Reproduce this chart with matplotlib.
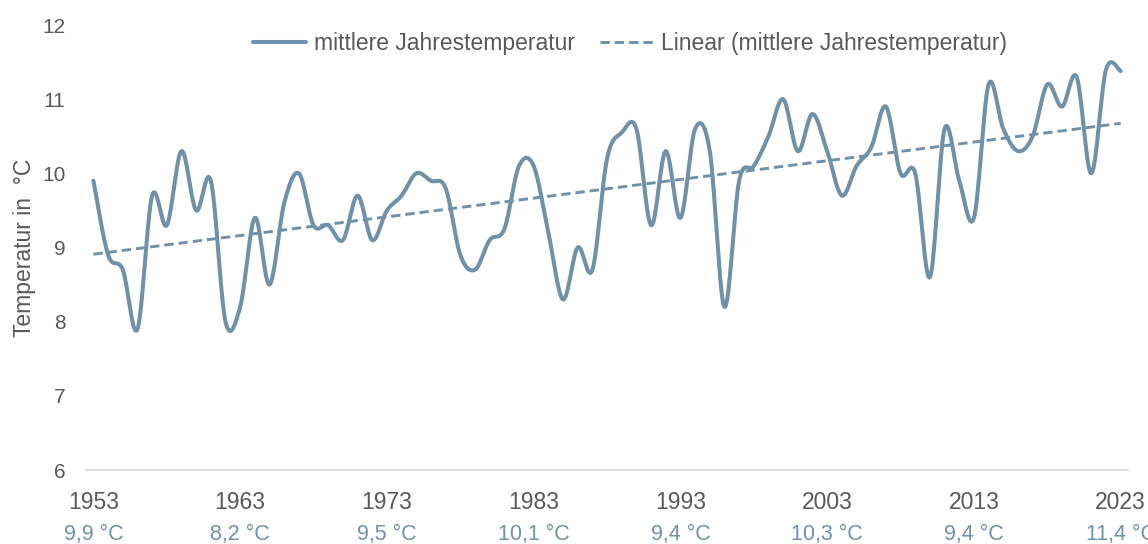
import numpy as np
import matplotlib
matplotlib.use("Agg")
import matplotlib.pyplot as plt
from matplotlib.transforms import blended_transform_factory

plt.rcParams['font.family'] = ['Liberation Sans', 'DejaVu Sans']

years = np.arange(1953, 2024)
temps = [9.9, 8.9, 8.7, 7.9, 9.7, 9.3, 10.3, 9.5, 9.9, 8.0,
         8.2, 9.4, 8.5, 9.6, 10.0, 9.3, 9.3, 9.1, 9.7, 9.1,
         9.5, 9.7, 10.0, 9.9, 9.8, 8.9, 8.7, 9.1, 9.25, 10.1,
         10.1, 9.2, 8.3, 9.0, 8.7, 10.2, 10.55, 10.6, 9.3, 10.3,
         9.4, 10.6, 10.3, 8.2, 9.9, 10.1, 10.5, 11.0, 10.3, 10.8,
         10.3, 9.7, 10.1, 10.35, 10.9, 10.0, 10.0, 8.6, 10.6, 9.9,
         9.4, 11.2, 10.6, 10.3, 10.5, 11.2, 10.9, 11.3, 10.0, 11.4,
         11.38]
label_years = [1953, 1963, 1973, 1983, 1993, 2003, 2013, 2023]

line_color = '#6F91A9'
text_color = '#595959'


def smooth(x, y, n=20):
    # Excel-artige Glaettung (Catmull-Rom als Bezier)
    x = np.asarray(x, float)
    y = np.asarray(y, float)
    px = np.concatenate([[x[0]], x, [x[-1]]])
    py = np.concatenate([[y[0]], y, [y[-1]]])
    t = np.linspace(0, 1, n, endpoint=False)[:, None]
    xs, ys = [], []
    for i in range(1, len(px) - 2):
        p0 = np.array([px[i], py[i]])
        p3 = np.array([px[i + 1], py[i + 1]])
        c1 = p0 + (p3 - np.array([px[i - 1], py[i - 1]])) / 6
        c2 = p3 - (np.array([px[i + 2], py[i + 2]]) - p0) / 6
        b = ((1 - t) ** 3) * p0 + 3 * ((1 - t) ** 2) * t * c1 + 3 * (1 - t) * t ** 2 * c2 + t ** 3 * p3
        xs.append(b[:, 0])
        ys.append(b[:, 1])
    xs.append([x[-1]])
    ys.append([y[-1]])
    return np.concatenate(xs), np.concatenate(ys)


fig = plt.figure(figsize=(11.48, 5.44), dpi=100)
ax = fig.add_axes([0.075, 0.136, 0.9076, 0.818])

sx, sy = smooth(years, temps)
ax.plot(sx, sy, color=line_color, lw=2.9, solid_capstyle='round',
        label='mittlere Jahrestemperatur')

k, d = np.polyfit(years, temps, 1)
ax.plot(years, k * years + d, color=line_color, lw=2.1, dashes=(3.2, 1.7),
        label='Linear (mittlere Jahrestemperatur)')

ax.set_xlim(1952.5, 2023.5)
ax.set_ylim(6, 12)
ax.set_yticks(range(6, 13))
ax.set_xticks(label_years)
ax.tick_params(axis='x', length=0, labelsize=16.5, colors=text_color, pad=15)
ax.tick_params(axis='y', length=0, labelsize=15, colors=text_color, pad=15)
for s in ['top', 'right', 'left']:
    ax.spines[s].set_visible(False)
ax.spines['bottom'].set_color('#D9D9D9')
ax.spines['bottom'].set_linewidth(1.2)

ax.set_ylabel('Temperatur in  °C', fontsize=16.5, color=text_color, labelpad=4)

tr = blended_transform_factory(ax.transData, ax.transAxes)
for yr in label_years:
    v = temps[yr - years[0]]
    ax.text(yr, -0.145, f"{v:.1f} °C".replace('.', ','), transform=tr,
            ha='center', va='center', fontsize=15.5, color=line_color)

ax.legend(loc='upper center', bbox_to_anchor=(0.522, 1.03), ncol=2, frameon=False,
          fontsize=16.5, labelcolor=text_color, handlelength=2.3, columnspacing=1.1,
          handletextpad=0.35)

fig.savefig('out.png', dpi=100)
